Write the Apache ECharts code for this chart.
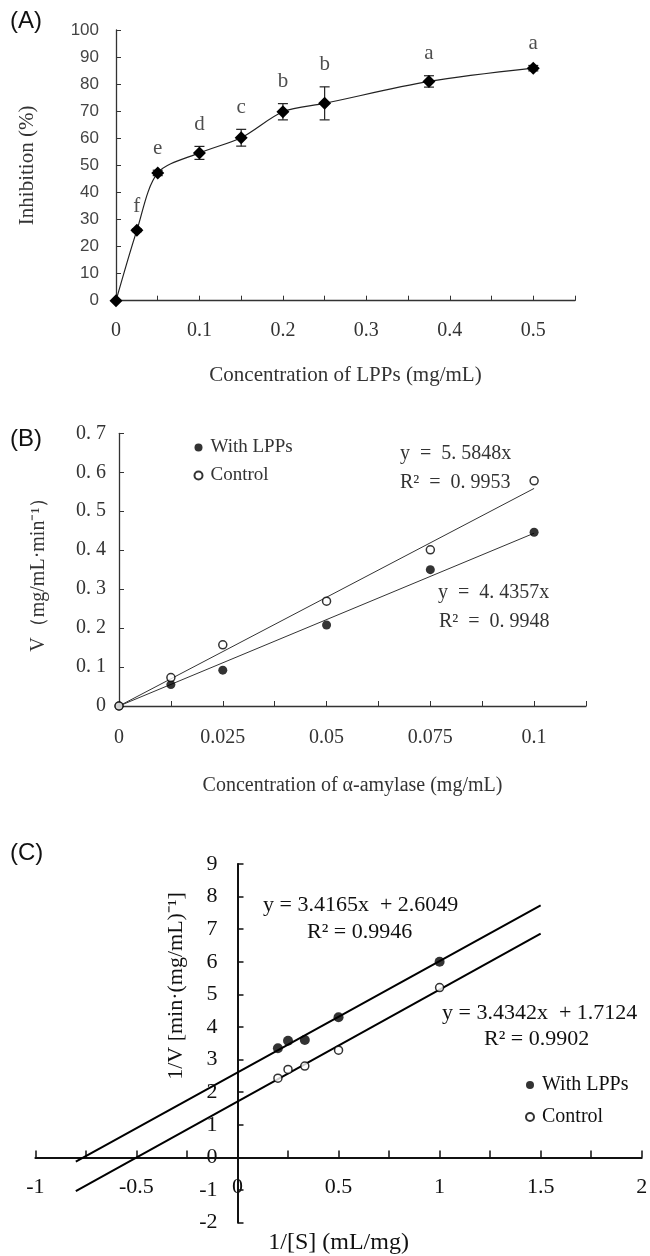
<!DOCTYPE html>
<html>
<head>
<meta charset="utf-8">
<script src="https://cdn.jsdelivr.net/npm/echarts@6/dist/echarts.min.js"></script>
<style>
  html, body { margin: 0; padding: 0; background: #fff; }
  #chart { width: 650px; height: 1256px; }
</style>
</head>
<body>
<div id="chart"></div>
<script>
// (A) inhibition vs LPPs concentration
const concLPPs = [0, 0.025, 0.05, 0.1, 0.15, 0.2, 0.25, 0.375, 0.5]
const inhibition = [0, 26, 47.2, 54.6, 60.2, 69.8, 72.9, 81, 85.9]
const inhibitionErr = [0, 0.5, 1, 2.4, 3.1, 3, 6.1, 2.1, 1]
const letters = ['', 'f', 'e', 'd', 'c', 'b', 'b', 'a', 'a']

// (B) V vs alpha-amylase concentration
const concAmylase = [0, 0.0125, 0.025, 0.05, 0.075, 0.1]
const vWithLPPs = [0, 0.055, 0.092, 0.208, 0.350, 0.446]
const vControl = [0, 0.073, 0.157, 0.269, 0.401, 0.578]
const slopeB = [4.4357, 5.5848]          // with LPPs, control
const fitRangeB = [0, 0.1]

// (C) Lineweaver-Burk
const invS = [0.2, 0.25, 0.333, 0.5, 1]
const invVWithLPPs = [3.35, 3.58, 3.6, 4.3, 6.0]
const invVControl = [2.43, 2.70, 2.80, 3.29, 5.21]
const slopeC = [3.4165, 3.4342]
const interceptC = [2.6049, 1.7124]
const fitRangeC = [-0.8, 1.5]

const serif = '"Liberation Serif", "Times New Roman", serif'
const sans = '"Liberation Sans", Arial, sans-serif'
const grayA = '#333'

const chart = echarts.init(document.getElementById('chart'))

const near = (v, step) => Math.abs(v / step - Math.round(v / step)) < 1e-6

function fitLine(m, b, range) {
    return range.map(x => [x, m * x + b])
}

const errData = concLPPs
    .map((x, i) => [x, inhibition[i] - inhibitionErr[i], inhibition[i] + inhibitionErr[i]])
    .filter((d, i) => inhibitionErr[i] > 0)

// grid of (C); the axes cross at 0,0 so labels are pulled in from the grid edge
const gridC = { left: 35.4, top: 864, width: 606.3, height: 358.6 }
const zeroXC = gridC.left + gridC.width / 3          // x = 0 of range [-1, 2]
const zeroYC = gridC.top + gridC.height * 9 / 11     // y = 0 of range [-2, 9]

const option = {
    animation: false,
    backgroundColor: '#fff',
    grid: [
        { left: 116, top: 30, width: 459, height: 270.7, outerBoundsMode: 'none' },
        { left: 119, top: 433.3, width: 467, height: 272.7, outerBoundsMode: 'none' },
        Object.assign({ outerBoundsMode: 'none' }, gridC)
    ],
    xAxis: [
        {
            gridIndex: 0, type: 'value', min: 0, max: 0.55, interval: 0.05,
            name: 'Concentration of LPPs (mg/mL)', nameLocation: 'middle', nameGap: 64,
            nameTextStyle: { fontFamily: serif, fontSize: 21, color: grayA },
            axisLine: { lineStyle: { color: grayA, width: 1.3 } },
            axisTick: { inside: true, length: 5, lineStyle: { color: grayA } },
            axisLabel: {
                fontFamily: serif, fontSize: 20, color: grayA, margin: 20,
                formatter: v => near(v, 0.1) ? String(+v.toFixed(1)) : ''
            },
            splitLine: { show: false }
        },
        {
            gridIndex: 1, type: 'value', min: 0, max: 0.1125, interval: 0.0125,
            name: 'Concentration of α-amylase (mg/mL)', nameLocation: 'middle', nameGap: 70,
            nameTextStyle: { fontFamily: serif, fontSize: 20, color: grayA },
            axisLine: { lineStyle: { color: grayA, width: 1.3 } },
            axisTick: { inside: true, length: 5, lineStyle: { color: grayA } },
            axisLabel: {
                fontFamily: serif, fontSize: 20, color: grayA, margin: 22,
                formatter: v => near(v, 0.025) ? String(+v.toFixed(3)) : ''
            },
            splitLine: { show: false }
        },
        {
            gridIndex: 2, type: 'value', min: -1, max: 2, interval: 0.25,
            name: '1/[S] (mL/mg)', nameLocation: 'middle', nameGap: 8, nameMoveOverlap: false,
            nameTextStyle: { fontFamily: serif, fontSize: 24, color: '#111' },
            axisLine: { onZero: true, lineStyle: { color: '#111', width: 2 } },
            axisTick: { inside: true, length: 7, lineStyle: { color: '#111', width: 1.5 } },
            axisLabel: {
                fontFamily: serif, fontSize: 22, color: '#111',
                margin: zeroYC + 19 - (gridC.top + gridC.height),
                formatter: v => near(v, 0.5) ? String(+v.toFixed(2)) : ''
            },
            splitLine: { show: false }
        }
    ],
    yAxis: [
        {
            gridIndex: 0, type: 'value', min: 0, max: 100, interval: 10,
            name: 'Inhibition (%)', nameLocation: 'middle', nameGap: 78, nameRotate: 90,
            nameTextStyle: { fontFamily: serif, fontSize: 21, color: grayA },
            axisLine: { show: true, lineStyle: { color: grayA, width: 1.3 } },
            axisTick: { show: true, inside: true, length: 5, lineStyle: { color: grayA } },
            axisLabel: { fontFamily: sans, fontSize: 17, color: '#444', margin: 17 },
            splitLine: { show: false }
        },
        {
            gridIndex: 1, type: 'value', min: 0, max: 0.7, interval: 0.1,
            name: 'V（mg/mL·min⁻¹）', nameLocation: 'middle', nameGap: 70, nameRotate: 90,
            nameTextStyle: { fontFamily: serif, fontSize: 20, color: grayA },
            axisLine: { show: true, lineStyle: { color: grayA, width: 1.3 } },
            axisTick: { show: true, inside: true, length: 5, lineStyle: { color: grayA } },
            axisLabel: {
                fontFamily: serif, fontSize: 20, color: grayA, margin: 13,
                formatter: v => v === 0 ? '0' : v.toFixed(1).replace('.', '. ')
            },
            splitLine: { show: false }
        },
        {
            gridIndex: 2, type: 'value', min: -2, max: 9, interval: 1,
            axisLine: { show: true, onZero: true, lineStyle: { color: '#111', width: 2 } },
            axisTick: { show: true, inside: true, length: 6, lineStyle: { color: '#111', width: 1.5 } },
            axisLabel: {
                fontFamily: serif, fontSize: 22, color: '#111',
                margin: gridC.left - (zeroXC - 20)
            },
            splitLine: { show: false }
        }
    ],
    legend: [
        {
            orient: 'vertical', left: 193.5, top: 438, itemGap: 9, padding: 0,
            itemWidth: 8, itemHeight: 8, selectedMode: false,
            data: ['With LPPs', 'Control'],
            textStyle: { fontFamily: serif, fontSize: 19, color: grayA, padding: [0, 0, 0, 3] }
        },
        {
            orient: 'vertical', left: 525, top: 1075, itemGap: 12, padding: 0,
            itemWidth: 8, itemHeight: 8, selectedMode: false,
            data: ['With LPPs', 'Control'],
            textStyle: { fontFamily: serif, fontSize: 20, color: '#111', padding: [0, 0, 0, 3] }
        }
    ],
    graphic: [
        { type: 'text', x: 10, y: 21, style: { text: '(A)', fontFamily: sans, fontSize: 24, fill: '#111', verticalAlign: 'middle' } },
        { type: 'text', x: 10, y: 439, style: { text: '(B)', fontFamily: sans, fontSize: 24, fill: '#111', verticalAlign: 'middle' } },
        { type: 'text', x: 10, y: 853, style: { text: '(C)', fontFamily: sans, fontSize: 24, fill: '#111', verticalAlign: 'middle' } },
        // y-axis title of (C), placed off-centre as in the original
        {
            type: 'text', x: 176, y: 986, rotation: Math.PI / 2,
            style: { text: '1/V [min·(mg/mL)⁻¹]', fontFamily: serif, fontSize: 22, fill: '#111', align: 'center', verticalAlign: 'middle' }
        },
        { type: 'text', x: 400, y: 454, style: { text: 'y  =  5. 5848x', fontFamily: serif, fontSize: 20, fill: grayA, verticalAlign: 'middle' } },
        { type: 'text', x: 400, y: 483, style: { text: 'R²  =  0. 9953', fontFamily: serif, fontSize: 20, fill: grayA, verticalAlign: 'middle' } },
        { type: 'text', x: 438, y: 593, style: { text: 'y  =  4. 4357x', fontFamily: serif, fontSize: 20, fill: grayA, verticalAlign: 'middle' } },
        { type: 'text', x: 439, y: 622, style: { text: 'R²  =  0. 9948', fontFamily: serif, fontSize: 20, fill: grayA, verticalAlign: 'middle' } },
        { type: 'text', x: 263, y: 905, style: { text: 'y = 3.4165x  + 2.6049', fontFamily: serif, fontSize: 22, fill: '#111', verticalAlign: 'middle' } },
        { type: 'text', x: 307, y: 932, style: { text: 'R² = 0.9946', fontFamily: serif, fontSize: 22, fill: '#111', verticalAlign: 'middle' } },
        { type: 'text', x: 442, y: 1013, style: { text: 'y = 3.4342x  + 1.7124', fontFamily: serif, fontSize: 22, fill: '#111', verticalAlign: 'middle' } },
        { type: 'text', x: 484, y: 1039, style: { text: 'R² = 0.9902', fontFamily: serif, fontSize: 22, fill: '#111', verticalAlign: 'middle' } }
    ],
    series: [
        // A: error bars
        {
            type: 'custom', xAxisIndex: 0, yAxisIndex: 0, z: 2,
            data: errData,
            renderItem: (params, api) => {
                const x = api.value(0)
                const lo = api.coord([x, api.value(1)])
                const hi = api.coord([x, api.value(2)])
                const w = 5
                const style = { stroke: '#222', lineWidth: 1.2 }
                return {
                    type: 'group',
                    children: [
                        { type: 'line', shape: { x1: lo[0], y1: lo[1], x2: hi[0], y2: hi[1] }, style },
                        { type: 'line', shape: { x1: hi[0] - w, y1: hi[1], x2: hi[0] + w, y2: hi[1] }, style },
                        { type: 'line', shape: { x1: lo[0] - w, y1: lo[1], x2: lo[0] + w, y2: lo[1] }, style }
                    ]
                }
            }
        },
        // A: mean curve
        {
            type: 'line', xAxisIndex: 0, yAxisIndex: 0, z: 3,
            data: concLPPs.map((x, i) => [x, inhibition[i]]),
            smooth: 0.3, symbol: 'diamond', symbolSize: 13,
            itemStyle: { color: '#000' },
            lineStyle: { color: '#222', width: 1.2 }
        },
        // A: significance letters
        {
            type: 'scatter', xAxisIndex: 0, yAxisIndex: 0, z: 4,
            data: concLPPs.map((x, i) => [x, inhibition[i] + inhibitionErr[i]]),
            symbolSize: 1, itemStyle: { color: 'rgba(0,0,0,0)' },
            label: {
                show: true, position: 'top', distance: 11,
                fontFamily: serif, fontSize: 21, color: '#222',
                formatter: p => letters[p.dataIndex]
            }
        },
        // B
        {
            name: 'With LPPs', type: 'scatter', xAxisIndex: 1, yAxisIndex: 1, z: 4,
            data: concAmylase.map((x, i) => [x, vWithLPPs[i]]),
            symbol: 'circle', symbolSize: 9,
            itemStyle: { color: '#000' }
        },
        {
            name: 'Control', type: 'scatter', xAxisIndex: 1, yAxisIndex: 1, z: 4,
            data: concAmylase.map((x, i) => [x, vControl[i]]),
            symbol: 'circle', symbolSize: 8,
            itemStyle: { color: '#fff', borderColor: '#000', borderWidth: 1.5 }
        },
        {
            type: 'line', xAxisIndex: 1, yAxisIndex: 1, z: 3,
            data: fitLine(slopeB[0], 0, fitRangeB), symbol: 'none',
            lineStyle: { color: '#333', width: 1 }
        },
        {
            type: 'line', xAxisIndex: 1, yAxisIndex: 1, z: 3,
            data: fitLine(slopeB[1], 0, fitRangeB), symbol: 'none',
            lineStyle: { color: '#333', width: 1 }
        },
        // C
        {
            name: 'With LPPs', type: 'scatter', xAxisIndex: 2, yAxisIndex: 2, z: 4,
            data: invS.map((x, i) => [x, invVWithLPPs[i]]),
            symbol: 'circle', symbolSize: 10,
            itemStyle: { color: '#000' }
        },
        {
            name: 'Control', type: 'scatter', xAxisIndex: 2, yAxisIndex: 2, z: 4,
            data: invS.map((x, i) => [x, invVControl[i]]),
            symbol: 'circle', symbolSize: 8,
            itemStyle: { color: '#fff', borderColor: '#000', borderWidth: 1.5 }
        },
        {
            type: 'line', xAxisIndex: 2, yAxisIndex: 2, z: 3,
            data: fitLine(slopeC[0], interceptC[0], fitRangeC), symbol: 'none',
            lineStyle: { color: '#000', width: 2 }
        },
        {
            type: 'line', xAxisIndex: 2, yAxisIndex: 2, z: 3,
            data: fitLine(slopeC[1], interceptC[1], fitRangeC), symbol: 'none',
            lineStyle: { color: '#000', width: 2 }
        }
    ]
}

chart.setOption(option)
</script>
</body>
</html>
